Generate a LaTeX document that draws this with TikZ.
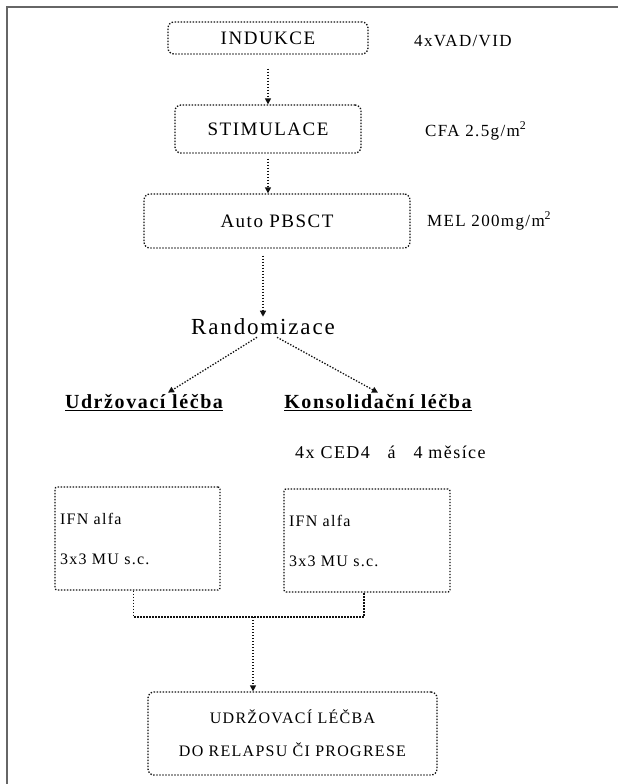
\documentclass[tikz,border=0pt]{standalone}
\usepackage{fontspec}
\setmainfont{Liberation Serif}[LetterSpace=8]
\usepackage{tikz}
\usetikzlibrary{arrows.meta,positioning,calc}
\definecolor{cInk}{HTML}{111111}
\definecolor{cFrame}{HTML}{666666}
\tikzset{
  dotline/.style  = {draw=cInk, line width=1.3pt, dash pattern=on 1.4pt off 1.6pt},
  box/.style      = {dotline, rounded corners=6pt, align=center, inner sep=4pt,
                     font=\fontsize{19}{22}\selectfont},
  therapy/.style  = {dotline, rounded corners=2pt, align=left, inner xsep=5pt,
                     font=\fontsize{16}{40}\selectfont},
  flow/.style     = {dotline, -{Triangle[length=6pt,width=6pt]}},
  note/.style     = {anchor=west, inner sep=0pt, font=\fontsize{17}{20}\selectfont},
  arm/.style      = {inner sep=2pt, font=\fontsize{20}{23}\selectfont\bfseries},
}

\begin{document}
\begin{tikzpicture}[x=1pt,y=-1pt]
  \useasboundingbox (0,0) rectangle (618,784);
  % scan frame
  \draw[cFrame, line width=1.5pt] (7,784) -- (7,7) -- (618,7);
  % main chain
  \node[box, minimum width=200pt, minimum height=32pt] (ind) at (268,38) {INDUKCE};
  \node[note] (vad) at (414,41) {4xVAD/VID};
  \node[box, minimum width=186pt, minimum height=48pt] (stim) at (268,129) {STIMULACE};
  \node[note] (cfa) at (425,131) {CFA 2.5g/m\textsuperscript{2}};
  \node[box, minimum width=266pt, minimum height=54pt] (auto) at (277,221) {Auto PBSCT};
  \node[note] (mel) at (427,221) {MEL 200mg/m\textsuperscript{2}};
  \node[inner sep=2pt, font=\fontsize{23}{26}\selectfont] (rand) at (263,327) {Randomizace};
  % two arms
  \node[arm] (udr) at (144,403) {\underline{Udržovací léčba}};
  \node[arm] (kons) at (378,403) {\underline{Konsolidační léčba}};
  \node[note, font=\fontsize{18}{21}\selectfont] (ced) at (295,452)
    {4x CED4\ \ \ á\ \ \ 4 měsíce};
  \node[therapy, text width=155pt, minimum height=103pt] (ifnL) at (137.5,538.5)
    {IFN alfa\\3x3 MU s.c.};
  \node[therapy, text width=156pt, minimum height=103pt] (ifnR) at (367,540.5)
    {IFN alfa\\3x3 MU s.c.};
  \node[box, minimum width=289pt, minimum height=83pt,
        font=\fontsize{16}{33}\selectfont] (udrz) at (292.5,733.5)
    {UDRŽOVACÍ LÉČBA\\DO RELAPSU ČI PROGRESE};
  \coordinate (join) at (253,617);
  % connectors
  \draw[flow, shorten <=14pt] (ind.south) -- (ind.south |- stim.north);
  \draw[flow, shorten <=5pt] (stim.south) -- (stim.south |- auto.north);
  \draw[flow, shorten <=7pt] (rand |- auto.south) -- (rand.north);
  \draw[flow] ([xshift=-6pt]rand.south) -- ([xshift=24pt]udr.north);
  \draw[flow] ([xshift=14pt]rand.south) -- (kons.north);
  \draw[dotline] ([xshift=-4pt]ifnL.south) |- (join) -| ([xshift=-3pt]ifnR.south);
  \draw[flow] (join) -- (join |- udrz.north);
\end{tikzpicture}
\end{document}
